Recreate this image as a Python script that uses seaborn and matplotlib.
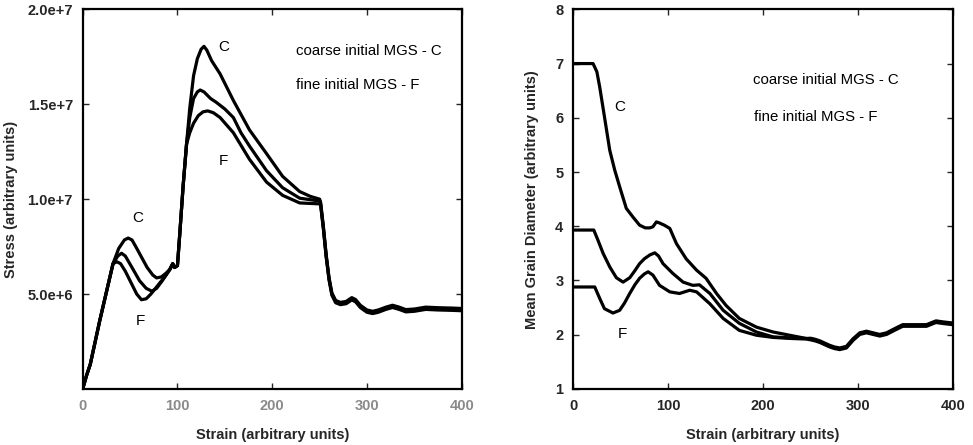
import numpy as np
import pandas as pd
import matplotlib
matplotlib.use("Agg")
import matplotlib.pyplot as plt
import seaborn as sns

sns.set_style("ticks")
plt.rcParams['font.family'] = ['Liberation Sans', 'DejaVu Sans']

# ---------------- Stress vs strain (left panel) ----------------
# shared initial elastic rise
rise_strain = [0, 4, 8, 18, 25, 32]
rise_stress = [0.0, 0.7, 1.3, 3.6, 5.1, 6.6]

# first hump (per series)
hump_strain_C = [38, 44, 48, 52, 56, 62, 68, 74, 78, 83, 88]
hump_stress_C = [7.4, 7.85, 7.95, 7.85, 7.5, 6.95, 6.4, 6.0, 5.85, 5.9, 6.1]
hump_strain_M = [37, 41, 45, 52, 60, 67, 73, 78, 84, 88]
hump_stress_M = [7.0, 7.15, 7.0, 6.4, 5.7, 5.3, 5.15, 5.3, 5.7, 6.0]
hump_strain_F = [36, 40, 45, 52, 57, 62, 67, 72, 80, 88]
hump_stress_F = [6.7, 6.6, 6.2, 5.5, 5.0, 4.7, 4.75, 5.0, 5.5, 6.0]

# shared steep rise
jump_strain = [92, 95, 97, 100, 102.5, 106, 109.6]
jump_stress = [6.3, 6.6, 6.4, 6.5, 8.2, 10.7, 12.9]

# main peak (per series)
peak_strain_C = [113, 117, 121, 125, 128, 131, 136, 145, 159, 176, 194, 211, 229, 240, 250]
peak_stress_C = [14.8, 16.5, 17.4, 17.9, 18.05, 17.85, 17.3, 16.6, 15.2, 13.65, 12.4, 11.2, 10.4, 10.15, 10.0]
peak_strain_M = [113, 117, 121, 124, 128, 135, 141, 150, 159, 167, 176, 194, 211, 229, 250]
peak_stress_M = [14.3, 15.3, 15.65, 15.75, 15.65, 15.3, 15.1, 14.75, 14.3, 13.5, 12.8, 11.5, 10.6, 10.05, 9.9]
peak_strain_F = [113, 117, 122, 127, 132, 138, 145, 159, 176, 194, 211, 229, 250]
peak_stress_F = [13.5, 14.0, 14.4, 14.6, 14.65, 14.55, 14.3, 13.5, 12.1, 10.9, 10.2, 9.8, 9.75]

# shared drop and steady state
tail_strain = [251, 254, 257, 260, 263, 267, 272, 278, 284, 288, 293, 300, 306, 312, 320, 327, 334, 341, 350, 362, 375, 390, 400]
tail_stress = [9.8, 8.5, 7.0, 5.8, 5.0, 4.6, 4.5, 4.55, 4.75, 4.65, 4.35, 4.1, 4.03, 4.1, 4.25, 4.35, 4.25, 4.12, 4.15, 4.25, 4.22, 4.2, 4.18]

stress_yticks = [5e6, 1e7, 1.5e7, 2e7]
stress_yticklabels = ["5.0e+6", "1.0e+7", "1.5e+7", "2.0e+7"]
strain_ticks = [0, 100, 200, 300, 400]

# ---------------- Mean grain diameter vs strain (right panel) ----------------
mgs_strain_C = [0, 21, 25, 28, 33, 38.6, 43.9, 49, 56, 63, 70, 76, 80.7, 84, 87.7, 91, 96, 101.8, 108.8, 119, 130, 140, 151, 161, 175, 193, 210.5, 228, 245.6]
mgs_C = [7.0, 7.0, 6.85, 6.57, 6.02, 5.4, 5.03, 4.73, 4.33, 4.17, 4.02, 3.97, 3.97, 3.99, 4.08, 4.06, 4.02, 3.96, 3.68, 3.4, 3.19, 3.04, 2.76, 2.54, 2.30, 2.14, 2.05, 1.99, 1.93]
mgs_strain_M = [0, 21.8, 26, 31.6, 38.6, 45.6, 52.6, 59.6, 65, 70, 75, 80.7, 86, 90, 94.7, 105, 115.8, 126, 133, 144, 158, 175, 193, 210.5, 230, 245.6]
mgs_M = [3.93, 3.93, 3.75, 3.5, 3.25, 3.05, 2.97, 3.05, 3.18, 3.31, 3.40, 3.47, 3.51, 3.45, 3.31, 3.13, 2.97, 2.91, 2.92, 2.76, 2.45, 2.21, 2.05, 1.96, 1.94, 1.93]
mgs_strain_F = [0, 22.8, 28, 33, 42, 49, 54, 59.6, 65, 70, 75, 79, 84, 91, 101.8, 112, 122.8, 130, 144, 158, 175, 193, 210.5, 230, 245.6]
mgs_F = [2.88, 2.88, 2.67, 2.48, 2.40, 2.45, 2.58, 2.76, 2.92, 3.04, 3.12, 3.16, 3.10, 2.91, 2.79, 2.76, 2.82, 2.79, 2.57, 2.30, 2.08, 1.99, 1.95, 1.93, 1.92]
mgs_tail_strain = [250, 255, 260, 265, 270, 275, 280.7, 287.7, 294.7, 301.8, 308.8, 315.8, 322.8, 330, 340, 347, 355, 361, 372, 382, 390, 400]
mgs_tail = [1.92, 1.90, 1.87, 1.83, 1.79, 1.76, 1.74, 1.77, 1.91, 2.02, 2.05, 2.02, 1.99, 2.02, 2.11, 2.17, 2.17, 2.17, 2.17, 2.24, 2.22, 2.2]
mgs_yticks = [1, 2, 3, 4, 5, 6, 7, 8]

legend_lines = ["coarse initial MGS - C", "fine initial MGS - F"]

# ---------------- build long-form tables ----------------
tail_offsets = {"C": 0.06, "M": 0.0, "F": -0.06}
rows = []
for key, hs, hv, ps, pv in [("C", hump_strain_C, hump_stress_C, peak_strain_C, peak_stress_C),
                            ("M", hump_strain_M, hump_stress_M, peak_strain_M, peak_stress_M),
                            ("F", hump_strain_F, hump_stress_F, peak_strain_F, peak_stress_F)]:
    xs = list(rise_strain) + hs + list(jump_strain) + ps + list(tail_strain)
    ys = list(rise_stress) + hv + list(jump_stress) + pv + [v + tail_offsets[key] for v in tail_stress]
    for x, y in zip(xs, ys):
        rows.append({"series": key, "strain": x, "stress": y * 1e6})
stress_df = pd.DataFrame(rows)

rows = []
mgs_off = {"C": 0.015, "M": 0.0, "F": -0.015}
for key, xs0, ys0 in [("C", mgs_strain_C, mgs_C), ("M", mgs_strain_M, mgs_M), ("F", mgs_strain_F, mgs_F)]:
    xs = xs0 + mgs_tail_strain
    ys = ys0 + [v + mgs_off[key] for v in mgs_tail]
    for x, y in zip(xs, ys):
        rows.append({"series": key, "strain": x, "mgs": y})
mgs_df = pd.DataFrame(rows)

# ---------------- draw ----------------
fig = plt.figure(figsize=(9.73, 4.45), dpi=100)
ax1 = fig.add_axes([0.085, 0.126, 0.3895, 0.853])
ax2 = fig.add_axes([0.589, 0.126, 0.3905, 0.853])

pal = {"C": "black", "M": "black", "F": "black"}
line_kw = dict(sort=False, estimator=None, linewidth=2.3, legend=False)
sns.lineplot(data=stress_df, x="strain", y="stress", hue="series", palette=pal, ax=ax1, **line_kw)
sns.lineplot(data=mgs_df, x="strain", y="mgs", hue="series", palette=pal, ax=ax2, **line_kw)
for ax in (ax1, ax2):
    for ln in ax.get_lines():
        ln.set_solid_joinstyle("round")
        ln.set_solid_capstyle("round")

FS = 10.5
for ax in (ax1, ax2):
    ax.set_xlim(0, 400)
    ax.set_xticks(strain_ticks)
    ax.tick_params(direction="in", top=True, right=True, length=4, width=1.0,
                   labelsize=FS, pad=7)
    for s in ax.spines.values():
        s.set_linewidth(1.6)
        s.set_color("black")
    ax.set_xlabel("Strain (arbitrary units)", fontsize=FS, fontweight="bold")
    ax.xaxis.set_label_coords(0.5, -0.103)

ax1.set_ylim(0, 2e7)
ax1.set_yticks(stress_yticks)
ax1.set_yticklabels(stress_yticklabels, fontweight="bold")
ax1.set_xticklabels([str(t) for t in strain_ticks], fontweight="bold", color="#8a8a8a")
ax1.set_ylabel("Stress (arbitrary units)", fontsize=FS, fontweight="bold")
ax1.yaxis.set_label_coords(-0.172, 0.5)

ax2.set_ylim(1, 8)
ax2.set_yticks(mgs_yticks)
ax2.set_yticklabels([str(t) for t in mgs_yticks], fontweight="bold")
ax2.set_xticklabels([str(t) for t in strain_ticks], fontweight="bold")
ax2.set_ylabel("Mean Grain Diameter (arbitrary units)", fontsize=FS, fontweight="bold")
ax2.yaxis.set_label_coords(-0.09, 0.5)

# annotations
txt = dict(fontsize=10.8, va="center", ha="left", color="black")
ax1.text(225, 17.8e6, legend_lines[0], **txt)
ax1.text(225, 16.0e6, legend_lines[1], **txt)
ax2.text(189.5, 6.70, legend_lines[0], **txt)
ax2.text(190, 6.02, legend_lines[1], **txt)

lab = dict(fontsize=11, ha="center", va="center", color="black")
ax1.text(149, 18.0e6, "C", **lab)
ax1.text(148, 12.0e6, "F", **lab)
ax1.text(58, 9.0e6, "C", **lab)
ax1.text(60.5, 3.6e6, "F", **lab)
ax2.text(49, 6.2, "C", **lab)
ax2.text(52, 2.02, "F", **lab)

fig.savefig("out.png", dpi=100)
